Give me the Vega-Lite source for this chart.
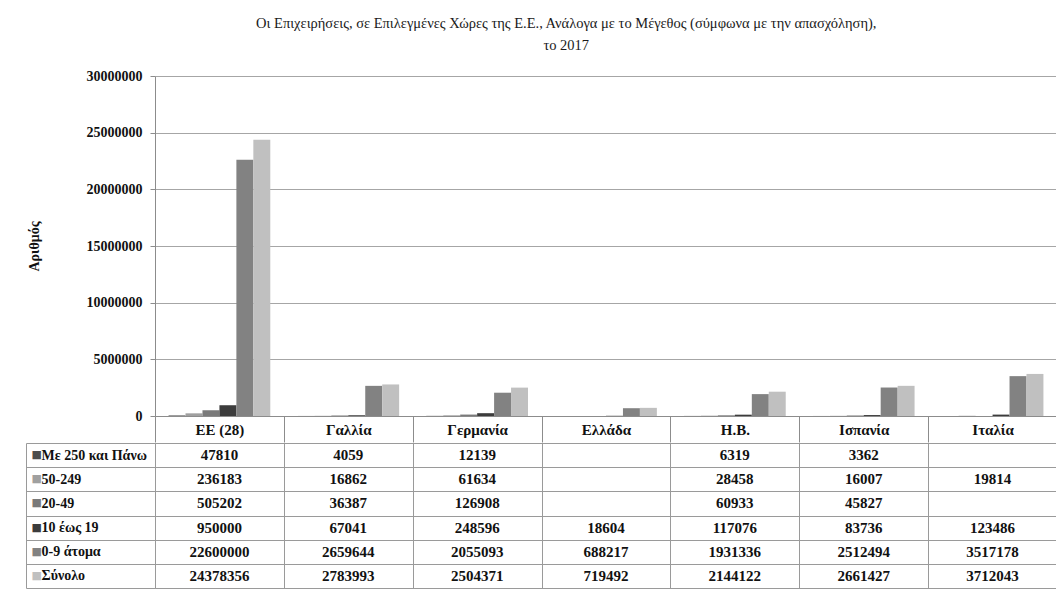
{
  "$schema": "https://vega.github.io/schema/vega-lite/v6.json",
  "background": "white",
  "padding": {"left": 25, "top": 15, "right": 0, "bottom": 0},
  "title": {
    "text": ["Οι Επιχειρήσεις, σε Επιλεγμένες Χώρες της Ε.Ε., Ανάλογα με το Μέγεθος (σύμφωνα με την απασχόληση),", "το 2017"],
    "font": "Liberation Serif, DejaVu Serif, serif", "fontSize": 14.5, "fontWeight": "normal", "color": "#1a1a1a",
    "lineHeight": 22, "offset": 16, "anchor": "middle", "dx": 25
  },
  "config": {"view": {"stroke": null}, "font": "Liberation Serif, DejaVu Serif, serif", "concat": {"spacing": 0}},
  "spacing": -8,
  "data": {"values": [
    {"country": "ΕΕ (28)", "size": "Με 250 και Πάνω", "value": 47810},
    {"country": "ΕΕ (28)", "size": "50-249", "value": 236183},
    {"country": "ΕΕ (28)", "size": "20-49", "value": 505202},
    {"country": "ΕΕ (28)", "size": "10 έως 19", "value": 950000},
    {"country": "ΕΕ (28)", "size": "0-9 άτομα", "value": 22600000},
    {"country": "ΕΕ (28)", "size": "Σύνολο", "value": 24378356},
    {"country": "Γαλλία", "size": "Με 250 και Πάνω", "value": 4059},
    {"country": "Γαλλία", "size": "50-249", "value": 16862},
    {"country": "Γαλλία", "size": "20-49", "value": 36387},
    {"country": "Γαλλία", "size": "10 έως 19", "value": 67041},
    {"country": "Γαλλία", "size": "0-9 άτομα", "value": 2659644},
    {"country": "Γαλλία", "size": "Σύνολο", "value": 2783993},
    {"country": "Γερμανία", "size": "Με 250 και Πάνω", "value": 12139},
    {"country": "Γερμανία", "size": "50-249", "value": 61634},
    {"country": "Γερμανία", "size": "20-49", "value": 126908},
    {"country": "Γερμανία", "size": "10 έως 19", "value": 248596},
    {"country": "Γερμανία", "size": "0-9 άτομα", "value": 2055093},
    {"country": "Γερμανία", "size": "Σύνολο", "value": 2504371},
    {"country": "Ελλάδα", "size": "10 έως 19", "value": 18604},
    {"country": "Ελλάδα", "size": "0-9 άτομα", "value": 688217},
    {"country": "Ελλάδα", "size": "Σύνολο", "value": 719492},
    {"country": "Η.Β.", "size": "Με 250 και Πάνω", "value": 6319},
    {"country": "Η.Β.", "size": "50-249", "value": 28458},
    {"country": "Η.Β.", "size": "20-49", "value": 60933},
    {"country": "Η.Β.", "size": "10 έως 19", "value": 117076},
    {"country": "Η.Β.", "size": "0-9 άτομα", "value": 1931336},
    {"country": "Η.Β.", "size": "Σύνολο", "value": 2144122},
    {"country": "Ισπανία", "size": "Με 250 και Πάνω", "value": 3362},
    {"country": "Ισπανία", "size": "50-249", "value": 16007},
    {"country": "Ισπανία", "size": "20-49", "value": 45827},
    {"country": "Ισπανία", "size": "10 έως 19", "value": 83736},
    {"country": "Ισπανία", "size": "0-9 άτομα", "value": 2512494},
    {"country": "Ισπανία", "size": "Σύνολο", "value": 2661427},
    {"country": "Ιταλία", "size": "50-249", "value": 19814},
    {"country": "Ιταλία", "size": "10 έως 19", "value": 123486},
    {"country": "Ιταλία", "size": "0-9 άτομα", "value": 3517178},
    {"country": "Ιταλία", "size": "Σύνολο", "value": 3712043}
  ]},
  "vconcat": [
    {
      "width": 902,
      "height": 340,
      "mark": {"type": "bar"},
      "encoding": {
        "x": {
          "field": "country", "type": "nominal",
          "sort": ["ΕΕ (28)", "Γαλλία", "Γερμανία", "Ελλάδα", "Η.Β.", "Ισπανία", "Ιταλία"],
          "scale": {"domain": ["ΕΕ (28)", "Γαλλία", "Γερμανία", "Ελλάδα", "Η.Β.", "Ισπανία", "Ιταλία"], "paddingInner": 0, "paddingOuter": 0},
          "axis": {
            "title": null, "labelAngle": 0, "labelFont": "Liberation Serif, DejaVu Serif, serif", "labelFontSize": 15,
            "labelFontWeight": "bold", "labelColor": "#111111", "labelBaseline": "middle", "labelPadding": -13,
            "tickBand": "extent", "tickSize": 26, "tickColor": "#8c8c8c", "domainColor": "#8c8c8c", "grid": false,
            "minExtent": 0
          }
        },
        "xOffset": {
          "field": "size", "type": "nominal",
          "sort": ["Με 250 και Πάνω", "50-249", "20-49", "10 έως 19", "0-9 άτομα", "Σύνολο"],
          "scale": {"domain": ["Με 250 και Πάνω", "50-249", "20-49", "10 έως 19", "0-9 άτομα", "Σύνολο"], "paddingInner": 0, "paddingOuter": 0.8}
        },
        "y": {
          "field": "value", "type": "quantitative",
          "scale": {"domain": [0, 30000000], "nice": false},
          "axis": {
            "values": [0, 5000000, 10000000, 15000000, 20000000, 25000000, 30000000],
            "format": "d", "title": "Αριθμός", "titleFont": "Liberation Serif, DejaVu Serif, serif", "titleFontSize": 14,
            "titleFontWeight": "bold", "titleColor": "#111111", "titleX": -121, "titleY": 170, "titleAngle": -90,
            "titleAlign": "center", "titleBaseline": "middle",
            "labelFont": "Liberation Serif, DejaVu Serif, serif", "labelFontSize": 14, "labelFontWeight": "bold", "labelColor": "#111111",
            "labelPadding": 8, "tickSize": 5, "tickColor": "#8c8c8c", "domainColor": "#8c8c8c",
            "grid": true, "gridColor": "#a6a6a6"
          }
        },
        "color": {
          "field": "size", "type": "nominal",
          "scale": {"domain": ["Με 250 και Πάνω", "50-249", "20-49", "10 έως 19", "0-9 άτομα", "Σύνολο"],
                    "range": ["#4d4d4d", "#a0a0a0", "#7a7a7a", "#3c3c3c", "#828282", "#c0c0c0"]},
          "legend": null
        }
      }
    },
    {
      "width": 902,
      "height": 145,
      "view": {"stroke": "#9a9a9a"},
      "encoding": {
        "x": {
          "field": "country", "type": "nominal",
          "scale": {"domain": ["ΕΕ (28)", "Γαλλία", "Γερμανία", "Ελλάδα", "Η.Β.", "Ισπανία", "Ιταλία"], "paddingInner": 0, "paddingOuter": 0},
          "axis": {"title": null, "labels": false, "ticks": false, "domain": false, "grid": true, "tickBand": "extent", "gridColor": "#9a9a9a", "gridOpacity": 1, "minExtent": 0}
        },
        "text": {"field": "value", "type": "quantitative", "format": "d"}
      },
      "layer": [
        {
          "transform": [{"filter": "indexof(['Με 250 και Πάνω', '50-249', '20-49'], datum.size) >= 0"}],
          "mark": {"type": "text", "font": "Liberation Serif, DejaVu Serif, serif", "fontSize": 15, "fontWeight": "bold", "color": "#111111"},
          "encoding": {
            "y": {
              "field": "size", "type": "nominal",
              "scale": {"domain": ["Με 250 και Πάνω", "50-249", "20-49", "10 έως 19", "0-9 άτομα", "Σύνολο"], "paddingInner": 0, "paddingOuter": 0},
              "axis": {
                "orient": "left", "title": null, "offset": 129, "tickSize": -129, "tickBand": "extent",
                "tickColor": "#9a9a9a", "domain": true, "domainColor": "#9a9a9a", "grid": true, "gridColor": "#9a9a9a", "gridOpacity": 1,
                "labelAlign": "left", "labelBaseline": "middle", "labelPadding": 114,
                "labelFont": "Liberation Serif, DejaVu Serif, serif", "labelFontSize": 14, "labelFontWeight": "bold", "labelColor": "#111111"
              }
            }
          }
        },
        {
          "transform": [{"filter": "indexof(['10 έως 19', '0-9 άτομα', 'Σύνολο'], datum.size) >= 0"}],
          "mark": {"type": "text", "font": "Liberation Serif, DejaVu Serif, serif", "fontSize": 15, "fontWeight": "bold", "color": "#111111"},
          "encoding": {
            "y": {
              "field": "size", "type": "nominal",
              "scale": {"domain": ["Με 250 και Πάνω", "50-249", "20-49", "10 έως 19", "0-9 άτομα", "Σύνολο"], "paddingInner": 0, "paddingOuter": 0},
              "axis": {
                "orient": "left", "title": null, "offset": 0, "ticks": false, "domain": false, "grid": false,
                "labelExpr": "'■'", "labelAlign": "left", "labelBaseline": "middle", "labelPadding": 124,
                "labelFont": "DejaVu Sans", "labelFontSize": 11,
                "labelColor": {
                  "condition": [
                    {"test": "datum.value === 'Με 250 και Πάνω'", "value": "#4d4d4d"},
                    {"test": "datum.value === '50-249'", "value": "#a0a0a0"},
                    {"test": "datum.value === '20-49'", "value": "#7a7a7a"},
                    {"test": "datum.value === '10 έως 19'", "value": "#3c3c3c"},
                    {"test": "datum.value === '0-9 άτομα'", "value": "#828282"}
                  ],
                  "value": "#c0c0c0"
                }
              }
            }
          }
        }
      ],
      "resolve": {"axis": {"y": "independent"}}
    }
  ]
}
